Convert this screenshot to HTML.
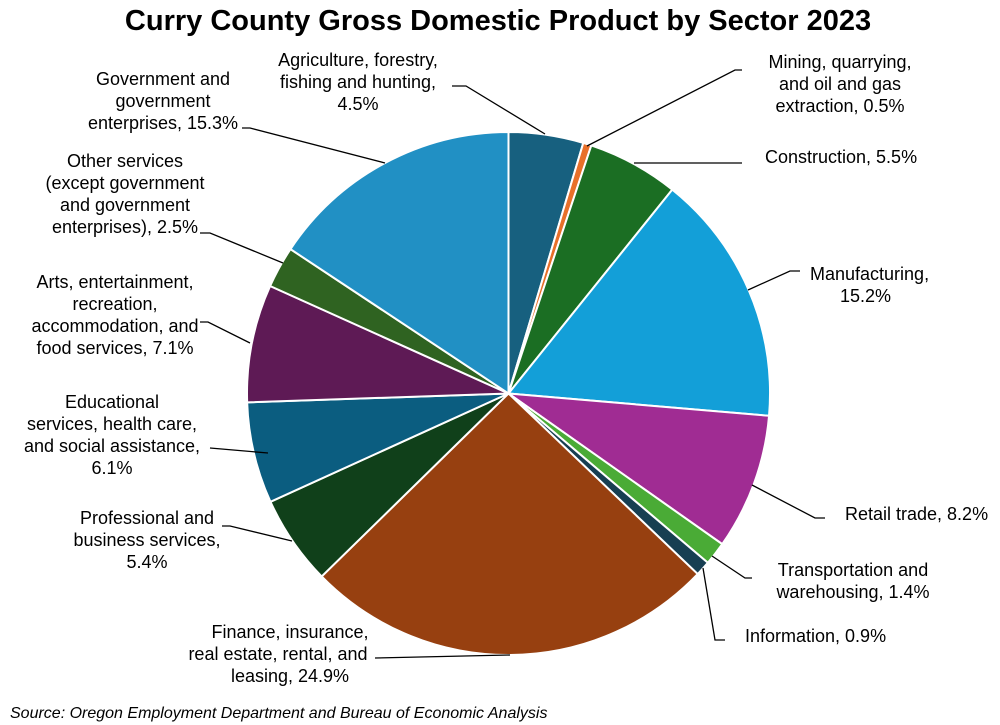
<!DOCTYPE html>
<html><head><meta charset="utf-8"><style>
body{margin:0;background:#fff;}
svg{display:block;font-family:"Liberation Sans",sans-serif;}
text{font-size:18px;fill:#000;}
</style></head><body>
<svg id="s" width="1000" height="725" viewBox="0 0 1000 725">
<rect width="1000" height="725" fill="#fff"/>
<text x="498" y="30" text-anchor="middle" style="font-size:29px;font-weight:bold">Curry County Gross Domestic Product by Sector 2023</text>
<g id="pie"></g>
<g stroke="#000" stroke-width="1.3" fill="none">
<polyline points="452,86 466,86 545,134"/>
<polyline points="587,146 735,70 742,70"/>
<polyline points="634,163 742,163"/>
<polyline points="748,290 790,271 800,271"/>
<polyline points="752,485 815,518 825,518"/>
<polyline points="712,556 745,578 752,578"/>
<polyline points="703,568 715,640 725,640"/>
<polyline points="510,655 375,658"/>
<polyline points="292,541 230,526 222,526"/>
<polyline points="268,453 210,448"/>
<polyline points="250,343 208,322 200,322"/>
<polyline points="283,263 210,233 200,233"/>
<polyline points="385,163 250,128 242,128"/>
</g>
<g text-anchor="middle">
<text x="358" y="66">Agriculture, forestry,</text><text x="358" y="88">fishing and hunting,</text><text x="358" y="110">4.5%</text>
<text x="840" y="68">Mining, quarrying,</text><text x="840" y="90">and oil and gas</text><text x="840" y="112">extraction, 0.5%</text>
<text x="853" y="576">Transportation and</text><text x="853" y="598">warehousing, 1.4%</text>
<text x="290" y="638">Finance, insurance,</text><text x="278" y="660">real estate, rental, and</text><text x="290" y="682">leasing, 24.9%</text>
<text x="147" y="524">Professional and</text><text x="147" y="546">business services,</text><text x="147" y="568">5.4%</text>
<text x="112" y="408">Educational</text><text x="112" y="430">services, health care,</text><text x="112" y="452">and social assistance,</text><text x="112" y="474">6.1%</text>
<text x="115" y="288">Arts, entertainment,</text><text x="115" y="310">recreation,</text><text x="115" y="332">accommodation, and</text><text x="115" y="354">food services, 7.1%</text>
<text x="125" y="167">Other services</text><text x="125" y="189">(except government</text><text x="125" y="211">and government</text><text x="125" y="233">enterprises), 2.5%</text>
<text x="163" y="85">Government and</text><text x="163" y="107">government</text><text x="163" y="129">enterprises, 15.3%</text>
</g>
<text x="765" y="163">Construction, 5.5%</text>
<text x="810" y="280">Manufacturing,</text><text x="840" y="302">15.2%</text>
<text x="845" y="520">Retail trade, 8.2%</text>
<text x="745" y="642">Information, 0.9%</text>
<text x="10" y="718" style="font-style:italic;font-size:16px">Source: Oregon Employment Department and  Bureau of Economic Analysis</text>
</svg>
<script>
var d=[[4.5,"#17607f"],[0.5,"#e8702a"],[5.5,"#1b6e23"],[15.2,"#139fd8"],[8.2,"#a02c93"],[1.4,"#4aab36"],[0.9,"#173f52"],[24.9,"#974010"],[5.4,"#10401a"],[6.1,"#0b5d80"],[7.1,"#5e1a55"],[2.5,"#2f6321"],[15.3,"#2190c4"]];
var tot=0;d.forEach(function(e){tot+=e[0];});
var cx=508.5,cy=393.5,r=261.5,a=0,h="";
d.forEach(function(e){var b=a+e[0]/tot*2*Math.PI;
var x1=cx+r*Math.sin(a),y1=cy-r*Math.cos(a),x2=cx+r*Math.sin(b),y2=cy-r*Math.cos(b);
h+='<path d="M'+cx+','+cy+'L'+x1+','+y1+'A'+r+','+r+' 0 '+((b-a)>Math.PI?1:0)+' 1 '+x2+','+y2+'Z" fill="'+e[1]+'" stroke="#fff" stroke-width="2"/>';a=b;});
document.getElementById("pie").innerHTML=h;
</script>
</body></html>
